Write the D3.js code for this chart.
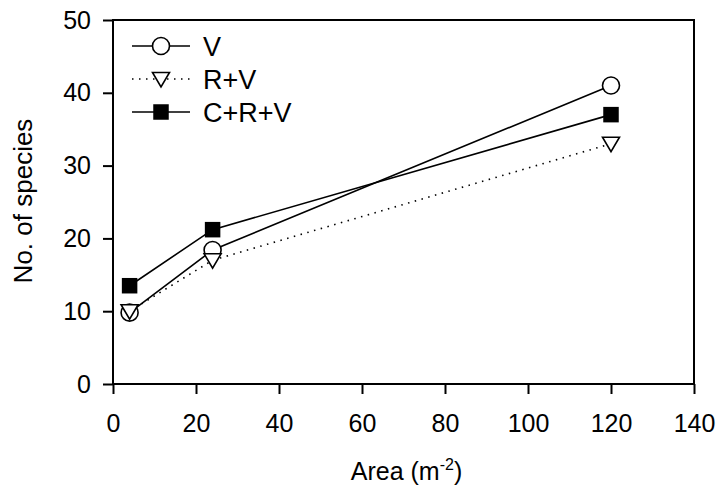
<!DOCTYPE html>
<meta charset="utf-8">
<title>No. of species vs area</title>
<style>
  body { margin: 0; background: #fff; }
  svg text { font-family: "Liberation Sans", Arial, sans-serif; fill: #000; }
  .frame { fill: none; stroke: #000; stroke-width: 2px; }
  .axis path { display: none; }
  .axis line { stroke: #000; stroke-width: 2px; }
  .axis text { font-size: 25px; font-family: "Liberation Sans", Arial, sans-serif; }
  .series { fill: none; stroke: #000; stroke-width: 1.6px; }
</style>
<body>
<script src="https://cdn.jsdelivr.net/npm/d3@7"></script>
<script>

var width = 716,
    height = 486;

var margin = {top: 20, right: 22, bottom: 102, left: 113};

// data
var area = [4, 24, 120];
var seriesNames = ["V", "R+V", "C+R+V"];
var valuesV = [9.8, 18.4, 41];
var valuesRV = [10, 17, 33];
var valuesCRV = [13.5, 21.2, 37];

var xTicks = [0, 20, 40, 60, 80, 100, 120, 140];
var yTicks = [0, 10, 20, 30, 40, 50];

var series = [
  {name: seriesNames[0], values: valuesV, dash: null, marker: "circle"},
  {name: seriesNames[1], values: valuesRV, dash: "1.5,5.5", marker: "triangle"},
  {name: seriesNames[2], values: valuesCRV, dash: null, marker: "square"}
];

var svg = d3.select("body").append("svg")
  .attr("width", width)
  .attr("height", height);

var x = d3.scaleLinear().domain([0, 140]).range([margin.left, width - margin.right]);
var y = d3.scaleLinear().domain([0, 50]).range([height - margin.bottom, margin.top]);

// frame
svg.append("rect").attr("class", "frame")
  .attr("x", x(0)).attr("y", y(50))
  .attr("width", x(140) - x(0))
  .attr("height", y(0) - y(50));

svg.append("g").attr("class", "axis")
  .attr("transform", "translate(0," + y(0) + ")")
  .call(d3.axisBottom(x).tickValues(xTicks).tickSize(10).tickPadding(20));

svg.append("g").attr("class", "axis")
  .attr("transform", "translate(" + x(0) + ",0)")
  .call(d3.axisLeft(y).tickValues(yTicks).tickSize(10).tickPadding(12));

// axis titles
svg.append("text")
  .attr("x", (x(0) + x(140)) / 2 + 3)
  .attr("y", 480)
  .attr("text-anchor", "middle")
  .style("font-size", "25px")
  .html('Area (m<tspan dy="-10" font-size="16px">-2</tspan><tspan dy="10">)</tspan>');

svg.append("text")
  .attr("transform", "translate(32," + (y(25) - 1) + ") rotate(-90)")
  .attr("text-anchor", "middle")
  .style("font-size", "26px")
  .text("No. of species");

var line = d3.line()
  .x(function(d, i) { return x(area[i]); })
  .y(function(d) { return y(d); });

function drawMarker(g, type, cx, cy) {
  if (type == "circle") {
    g.append("circle").attr("cx", cx).attr("cy", cy).attr("r", 8.5)
      .attr("fill", "#fff").attr("stroke", "#000").attr("stroke-width", 1.6);
  } else if (type == "square") {
    g.append("rect").attr("x", cx - 7.75).attr("y", cy - 7.75)
      .attr("width", 15.5).attr("height", 15.5).attr("fill", "#000");
  } else {
    var s = 8.5;
    g.append("path")
      .attr("d", "M" + (cx - s) + "," + (cy - 6.5) + "L" + (cx + s) + "," + (cy - 6.5) + "L" + cx + "," + (cy + 8) + "Z")
      .attr("fill", "#fff").attr("stroke", "#000").attr("stroke-width", 1.6);
  }
}

series.forEach(function(s) {
  svg.append("path").attr("class", "series")
    .attr("d", line(s.values))
    .attr("stroke-dasharray", s.dash);
});

// markers drawn over the lines, C+R+V first so open markers sit on top
[series[2], series[0], series[1]].forEach(function(s) {
  var g = svg.append("g");
  s.values.forEach(function(v, i) {
    drawMarker(g, s.marker, x(area[i]), y(v));
  });
});

// legend
var legend = svg.append("g");
series.forEach(function(s, i) {
  var ly = 46 + i * 33;
  legend.append("line").attr("class", "series")
    .attr("x1", 132).attr("x2", 190).attr("y1", ly).attr("y2", ly)
    .attr("stroke-dasharray", s.dash);
  drawMarker(legend, s.marker, 161, ly);
  legend.append("text")
    .attr("x", 203).attr("y", ly + 10)
    .style("font-size", "27px")
    .text(s.name);
});

</script>
</body>
